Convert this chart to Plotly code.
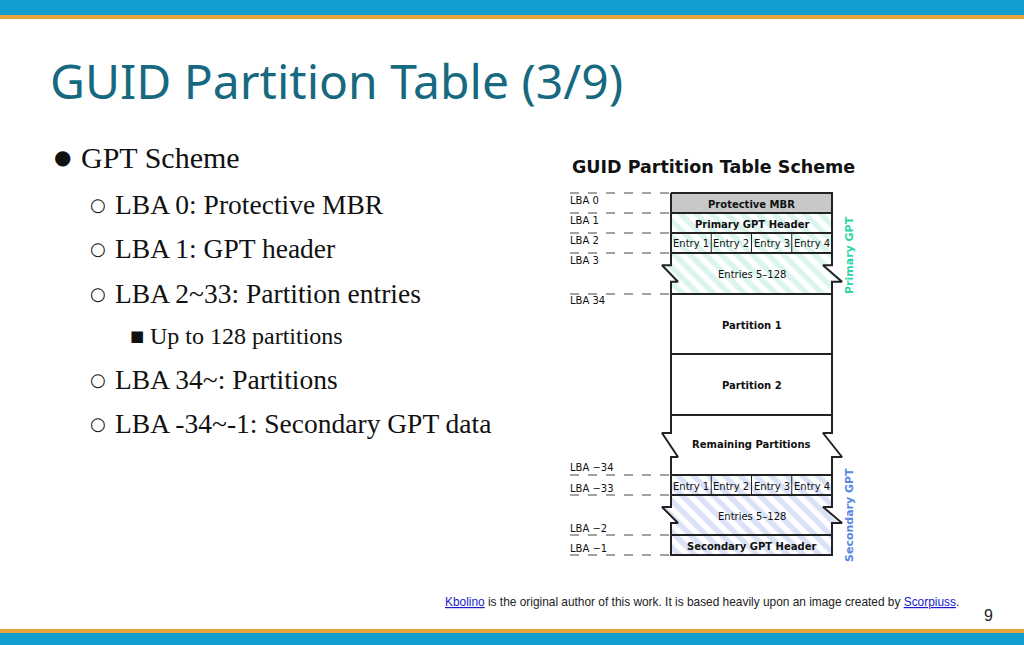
import plotly.graph_objects as go

title = "GUID Partition Table (3/9)"
bullets = [("●", "GPT Scheme", 0), ("○", "LBA 0: Protective MBR", 1), ("○", "LBA 1: GPT header", 1),
           ("○", "LBA 2~33: Partition entries", 1), ("■", "Up to 128 partitions", 2),
           ("○", "LBA 34~: Partitions", 1), ("○", "LBA -34~-1: Secondary GPT data", 1)]
bullet_y = [157, 204, 248, 293, 336, 379, 423]
lba_labels = ["LBA 0", "LBA 1", "LBA 2", "LBA 3", "LBA 34", "LBA −34", "LBA −33", "LBA −2", "LBA −1"]
lba_label_y = [200, 220, 240, 260, 300, 467, 488, 528, 548]
boundaries = [193, 213, 233, 253, 294, 475, 495, 535, 555]
entries = ["Entry 1", "Entry 2", "Entry 3", "Entry 4"]

X0, X1 = 671, 832
PRI = "#b3ecdc"; SEC = "#b3c6ee"
fig = go.Figure()

def poly(xs, ys, color=None, fill="white"):
    kw = dict(x=xs + [xs[0]], y=ys + [ys[0]], mode="lines", fill="toself", fillcolor=fill,
              line=dict(color="#222", width=2), hoverinfo="skip", showlegend=False)
    if color:
        kw["fillpattern"] = dict(shape="\\", fgcolor=color, bgcolor="white", size=11, solidity=0.5)
    fig.add_trace(go.Scatter(**kw))

def rect(y0, y1, color=None, fill="white"):
    poly([X0, X1, X1, X0], [y0, y0, y1, y1], color, fill)

def zig(y0, y1, color=None):
    a, b = y0 + (y1 - y0) * 0.3, y0 + (y1 - y0) * 0.7
    xs = [X0, X1, X1, X1 - 9, X1 + 10, X1, X1, X0, X0, X0 + 7, X0 - 9, X0]
    ys = [y0, y0, a, a, b, b, y1, y1, b, b, a, a]
    poly(xs, ys, color)

rect(193, 213, fill="#c8c8c8")
rect(213, 233, PRI)
rect(233, 253, PRI)
zig(253, 294, PRI)
rect(294, 354)
rect(354, 415)
zig(415, 475)
rect(475, 495, SEC)
zig(495, 535, SEC)
rect(535, 555, SEC)

shapes = []
for y in boundaries:
    shapes.append(dict(type="line", x0=570, x1=X0, y0=y, y1=y, line=dict(color="#444", width=1, dash="dash")))
for yy in [(233, 253), (475, 495)]:
    for i in range(1, 4):
        xx = X0 + (X1 - X0) * i / 4
        shapes.append(dict(type="line", x0=xx, x1=xx, y0=yy[0], y1=yy[1], line=dict(color="#222", width=1)))
shapes += [dict(type="rect", x0=0, x1=1024, y0=0, y1=15, fillcolor="#139ed2", line_width=0),
           dict(type="rect", x0=0, x1=1024, y0=15, y1=19, fillcolor="#e8a33a", line_width=0),
           dict(type="rect", x0=0, x1=1024, y0=629, y1=633, fillcolor="#e8a33a", line_width=0),
           dict(type="rect", x0=0, x1=1024, y0=633, y1=645, fillcolor="#139ed2", line_width=0)]

ann = []
def A(x, y, t, size, color="#111", family="DejaVu Sans", xa="left", angle=0):
    ann.append(dict(x=x, y=y, text=t, showarrow=False, xanchor=xa, yanchor="middle",
                    font=dict(size=size, color=color, family=family), textangle=angle))

A(48, 80, title, 48, "#17697f", "Noto Sans")
for (sym, txt, lvl), y in zip(bullets, bullet_y):
    xs = {0: 52, 1: 88, 2: 128}[lvl]
    size = {0: 30, 1: 27.5, 2: 24}[lvl]
    A(xs, y, sym, {0: 20, 1: 18, 2: 15}[lvl], "#111", "DejaVu Sans")
    A(xs + {0: 27, 1: 25, 2: 20}[lvl], y, txt, size, "#111", "Liberation Serif")
A(570, 167, "<b>GUID Partition Table Scheme</b>", 17.5)
for t, y in zip(lba_labels, lba_label_y):
    A(568, y, t, 10)
cx = (X0 + X1) / 2
A(cx, 204, "<b>Protective MBR</b>", 10, xa="center")
A(cx, 224, "<b>Primary GPT Header</b>", 10, xa="center")
A(cx, 274, "Entries 5–128", 10, xa="center")
A(cx, 325, "<b>Partition 1</b>", 10, xa="center")
A(cx, 385, "<b>Partition 2</b>", 10, xa="center")
A(cx, 444, "<b>Remaining Partitions</b>", 10, xa="center")
A(cx, 516, "Entries 5–128", 10, xa="center")
A(cx, 546, "<b>Secondary GPT Header</b>", 10, xa="center")
for yy in [243, 486]:
    for i, e in enumerate(entries):
        A(X0 + (X1 - X0) * (i + 0.5) / 4, yy, e, 10, xa="center")
A(849, 255, "<b>Primary GPT</b>", 11, "#2dd4a4", xa="center", angle=-90)
A(849, 515, "<b>Secondary GPT</b>", 11, "#5a86e0", xa="center", angle=-90)
A(961, 602, '<span style="color:#1a1acc"><u>Kbolino</u></span> is the original author of this work. It is based heavily upon an image created by <span style="color:#1a1acc"><u>Scorpiuss</u></span>.', 11.9, "#222", "Liberation Sans", xa="right")
A(988, 615, "9", 16, "#222", "Liberation Sans", xa="center")

fig.update_layout(width=1024, height=645, margin=dict(l=0, r=0, t=0, b=0),
                  paper_bgcolor="white", plot_bgcolor="white", shapes=shapes, annotations=ann,
                  xaxis=dict(range=[0, 1024], visible=False, fixedrange=True),
                  yaxis=dict(range=[645, 0], visible=False, fixedrange=True))
fig.write_html("out.html", config={"displayModeBar": False, "staticPlot": True},
               post_script="document.body.style.margin='0';document.body.style.overflow='hidden';")
